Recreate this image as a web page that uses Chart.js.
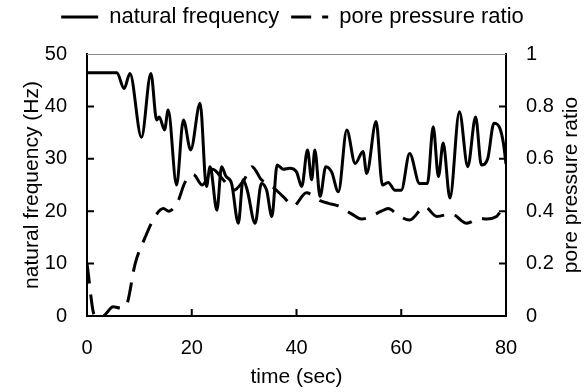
<!DOCTYPE html>
<html>
<head>
<meta charset="utf-8">
<script src="https://cdn.jsdelivr.net/npm/chart.js@4/dist/chart.umd.min.js"></script>
<style>
html,body{margin:0;padding:0;background:#fff;}
#wrap{width:585px;height:392px;}
</style>
</head>
<body>
<div id="wrap"><canvas id="c" width="585" height="392"></canvas></div>
<script>
// ---- data ----
const legendLabels = ['natural frequency', 'pore pressure ratio'];
const xTitle = 'time (sec)';
const leftTitle = 'natural frequency (Hz)';
const rightTitle = 'pore pressure ratio';

const freqTime = [0, 5.7, 7.1, 8.2, 10.4, 12.2, 13.3, 13.8, 14.8, 15.5, 17.1, 18.4, 19.8, 21.6, 22.8, 23.5, 24.8, 25.7, 26.5, 27.6, 28.9, 29.8, 30.6, 32.1, 33.3, 34.3, 35.3, 36.3, 37.5, 38.7, 40, 41, 42.1, 42.9, 43.5, 44.5, 45.6, 46.7, 48, 49.6, 51.2, 52.7, 53.4, 55.2, 56.4, 57.5, 58.8, 60, 61.6, 63.5, 65, 66.1, 67.1, 68, 69.3, 71.1, 72.7, 74.2, 75.3, 76.5, 77.7, 78.8, 79.5, 80];
const freqHz   = [46.4, 46.4, 43.4, 46.3, 34.1, 46.3, 37.4, 38, 35.5, 39.3, 25, 37.4, 31.7, 40.6, 24.7, 28.5, 20.2, 28.5, 26.7, 25.3, 17.7, 26, 24, 17.7, 25.3, 24, 19, 28.8, 28, 28.2, 27.5, 24.7, 31.7, 26, 31.7, 22.8, 28.5, 27.5, 23.7, 35.5, 29.1, 31.4, 27.2, 37.1, 25, 25.5, 24, 24, 31, 25.3, 25.3, 36.1, 26.6, 33, 22.5, 39, 28.5, 38, 28.8, 30, 36.8, 35.9, 33, 29];

const ratioTime  = [0, 1.5, 3, 5, 6.5, 7.5, 9.2, 11.1, 13, 14.6, 15.6, 17.4, 18.7, 20.3, 22, 24, 26, 28, 30, 31.5, 33.3, 35, 37.5, 39.4, 41.9, 44.5, 46.1, 48, 50.5, 52.4, 53.6, 56.2, 57.5, 59.4, 61.6, 64.5, 66.8, 69.6, 72.5, 75, 76.3, 78.2, 79.2, 80];
const ratioValue = [0.2, 0, 0, 0.035, 0.03, 0.04, 0.2, 0.3, 0.38, 0.41, 0.4, 0.44, 0.51, 0.54, 0.5, 0.56, 0.52, 0.48, 0.52, 0.57, 0.52, 0.5, 0.455, 0.42, 0.47, 0.44, 0.43, 0.42, 0.39, 0.37, 0.375, 0.4, 0.41, 0.385, 0.366, 0.417, 0.38, 0.39, 0.354, 0.373, 0.37, 0.38, 0.4, 0.4];

const xRange = [0, 80];
const leftRange = [0, 50];
const rightRange = [0, 1];

// ---- chart ----
const FONT = "'Liberation Sans', Arial, sans-serif";
Chart.defaults.font.family = FONT;
Chart.defaults.color = '#000';

const pts = (xs, ys) => xs.map((t, i) => ({x: t, y: ys[i]}));

const legendHeight = {
  id: 'legendHeight',
  beforeInit(chart) {
    const lg = chart.legend;
    const origFit = lg.fit;
    lg.fit = function () { origFit.call(this); this.height = 54; };
    const origDraw = lg.draw;
    lg.draw = function () {
      const ctx = this.ctx;
      ctx.save();
      ctx.translate(0, -6);
      origDraw.call(this);
      ctx.restore();
    };
  }
};

const innerTicks = {
  id: 'innerTicks',
  afterDatasetsDraw(chart) {
    const {ctx, chartArea: a, scales} = chart;
    const L = 7;
    ctx.save();
    ctx.strokeStyle = '#000';
    ctx.lineWidth = 2;
    ctx.beginPath();
    const sx = scales.x;
    sx.ticks.forEach(t => {
      if (t.value > sx.min && t.value < sx.max) {
        const p = sx.getPixelForValue(t.value);
        ctx.moveTo(p, a.bottom); ctx.lineTo(p, a.bottom - L);
      }
    });
    const sy = scales.y;
    sy.ticks.forEach(t => {
      if (t.value > sy.min && t.value < sy.max) {
        const p = sy.getPixelForValue(t.value);
        ctx.moveTo(a.left, p); ctx.lineTo(a.left + L, p);
      }
    });
    const sr = scales.y1;
    sr.ticks.forEach(t => {
      if (t.value > sr.min && t.value < sr.max) {
        const p = sr.getPixelForValue(t.value);
        ctx.moveTo(a.right, p); ctx.lineTo(a.right - L, p);
      }
    });
    ctx.stroke();
    ctx.beginPath();
    ctx.strokeStyle = '#888';
    ctx.lineWidth = 1;
    ctx.moveTo(a.left, a.top + 0.5); ctx.lineTo(a.right, a.top + 0.5);
    ctx.stroke();
    ctx.restore();
  },
  afterDraw(chart) {
    const {ctx, chartArea: a, scales} = chart;
    ctx.save();
    ctx.translate(scales.y1.right - 14, (a.top + a.bottom) / 2);
    ctx.rotate(-Math.PI / 2);
    ctx.textAlign = 'center';
    ctx.textBaseline = 'middle';
    ctx.fillStyle = '#000';
    ctx.font = "21px " + FONT;
    ctx.fillText(rightTitle, 0, 0);
    ctx.restore();
  }
};

new Chart(document.getElementById('c'), {
  type: 'line',
  data: {
    datasets: [
      {
        label: legendLabels[0],
        data: pts(freqTime, freqHz),
        yAxisID: 'y',
        borderColor: '#000',
        backgroundColor: '#000',
        borderWidth: 3,
        pointRadius: 0,
        pointStyle: 'line',
        cubicInterpolationMode: 'monotone',
        fill: false
      },
      {
        label: legendLabels[1],
        data: pts(ratioTime, ratioValue),
        yAxisID: 'y1',
        borderColor: '#000',
        backgroundColor: '#000',
        borderWidth: 3,
        borderDash: [20, 11],
        pointRadius: 0,
        pointStyle: 'line',
        cubicInterpolationMode: 'monotone',
        fill: false
      }
    ]
  },
  options: {
    responsive: false,
    animation: false,
    devicePixelRatio: 1,
    layout: {padding: 0},
    plugins: {
      legend: {
        position: 'top',
        labels: {
          usePointStyle: true,
          pointStyleWidth: 37,
          padding: 12,
          color: '#000',
          font: {size: 22},
          generateLabels(chart) {
            const items = Chart.defaults.plugins.legend.labels.generateLabels(chart);
            items.forEach(it => {
              const ds = chart.data.datasets[it.datasetIndex];
              it.lineDash = ds.borderDash || [];
              it.lineWidth = 3;
              it.strokeStyle = '#000';
            });
            return items;
          }
        }
      },
      tooltip: {enabled: false}
    },
    scales: {
      x: {
        type: 'linear',
        min: xRange[0], max: xRange[1],
        afterFit(s) { s.height = 76; },
        ticks: {stepSize: 20, padding: 20, font: {size: 20}, color: '#000'},
        grid: {display: true, drawOnChartArea: false, drawTicks: false},
        border: {display: true, color: '#000', width: 2},
        title: {display: true, text: xTitle, font: {size: 21}, color: '#000', padding: {top: 0, bottom: 2}}
      },
      y: {
        position: 'left',
        min: leftRange[0], max: leftRange[1],
        afterFit(s) { s.width = 87; },
        ticks: {stepSize: 10, padding: 20, font: {size: 20}, color: '#000'},
        grid: {display: true, drawOnChartArea: false, drawTicks: false},
        border: {display: true, color: '#000', width: 2},
        title: {display: true, text: leftTitle, font: {size: 21}, color: '#000', padding: {top: 20, bottom: 0}}
      },
      y1: {
        position: 'right',
        min: rightRange[0], max: rightRange[1],
        afterFit(s) { s.width = 79; },
        ticks: {stepSize: 0.2, padding: 20, font: {size: 20}, color: '#000',
                callback: v => String(+v.toFixed(1))},
        grid: {display: true, drawOnChartArea: false, drawTicks: false},
        border: {display: true, color: '#000', width: 2},
        title: {display: false}
      }
    }
  },
  plugins: [legendHeight, innerTicks]
});
</script>
</body>
</html>
